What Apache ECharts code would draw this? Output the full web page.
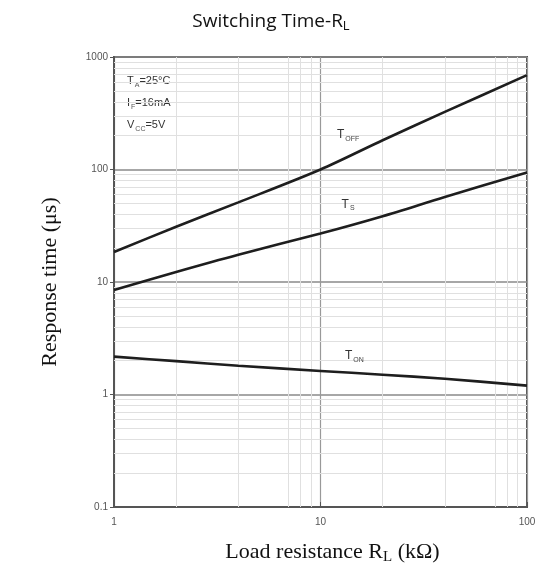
<!DOCTYPE html>
<html>
<head>
<meta charset="utf-8">
<script src="https://cdn.jsdelivr.net/npm/echarts@6/dist/echarts.min.js"></script>
<style>
  html, body { margin: 0; padding: 0; background: #fff; }
  #chart { width: 542px; height: 572px; }
</style>
</head>
<body>
<div id="chart"></div>
<script>
// Load resistance (kΩ) sample points and response times (µs)
const loadRes = [1, 2, 4, 10, 20, 40, 100];
const tOff = [18.5, 31, 51, 100, 182, 325, 690];
const tS = [8.5, 12.3, 17.5, 27, 38.5, 57, 94];
const tOn = [2.17, 1.98, 1.8, 1.62, 1.5, 1.38, 1.2];

// Secondary grid lines of the log-log chart paper
const xMinorGrid = [2, 4, 7, 8, 9, 20, 40, 70, 80, 90];
const yMinorGrid = [0.2, 0.3, 0.4, 0.5, 0.6, 0.7, 0.8, 0.9,
                    2, 3, 4, 5, 6, 7, 8, 9,
                    20, 30, 40, 50, 60, 70, 80, 90,
                    200, 300, 400, 500, 600, 700, 800, 900];

// Curve name labels: [text, sub, x, y]
const curveLabels = [
  ['T', 'OFF', 13.6, 204],
  ['T', 'S', 13.6, 49],
  ['T', 'ON', 14.6, 2.21]
];

const pairs = (ys) => loadRes.map((x, i) => [x, ys[i]]);

const subRich = {
  m: { fontSize: 12, fontFamily: 'Liberation Sans', color: '#333' },
  s: { fontSize: 7, fontFamily: 'Liberation Sans', color: '#444', padding: [8, 0, 0, 1] }
};

const chart = echarts.init(document.getElementById('chart'));

const curveSeries = (name, ys, lbl) => ({
  name: name,
  type: 'line',
  smooth: 0.3,
  showSymbol: false,
  data: pairs(ys),
  lineStyle: { color: '#1e1e1e', width: 2.6 },
  z: 5,
  markPoint: {
    silent: true,
    symbol: 'circle',
    symbolSize: 1,
    itemStyle: { color: 'rgba(0,0,0,0)' },
    label: {
      show: true,
      position: 'inside',
      formatter: '{m|' + lbl[0] + '}{s|' + lbl[1] + '}',
      rich: subRich
    },
    data: [{ coord: [lbl[2], lbl[3]] }]
  }
});

chart.setOption({
  animation: false,
  title: {
    text: 'Switching Time-R{s|L}',
    left: 'center',
    top: 6,
    textStyle: {
      fontFamily: 'Open Sans',
      fontSize: 19,
      fontWeight: 'normal',
      color: '#111',
      rich: {
        s: { fontFamily: 'Open Sans', fontSize: 13, color: '#111', padding: [9, 0, 0, 0] }
      }
    }
  },
  grid: {
    left: 114, right: 15, top: 57, bottom: 65,
    show: true, borderColor: '#555', borderWidth: 2
  },
  xAxis: {
    type: 'log',
    logBase: 10,
    min: 1,
    max: 100,
    name: 'Load resistance R{s|L} (kΩ)',
    nameLocation: 'middle',
    nameGap: 33,
    nameTextStyle: {
      fontFamily: 'Liberation Serif',
      fontSize: 22,
      color: '#111',
      padding: [0, 0, 0, 24],
      rich: {
        s: { fontFamily: 'Liberation Serif', fontSize: 15, color: '#111', padding: [10, 0, 0, 0] }
      }
    },
    axisLine: { show: true, lineStyle: { color: '#555', width: 2 } },
    axisTick: { show: true, inside: true, length: 5, lineStyle: { color: '#555' } },
    axisLabel: { fontFamily: 'Liberation Sans', fontSize: 10, color: '#555', margin: 10 },
    splitLine: { show: true, lineStyle: { color: '#999', width: 1.2 } },
    minorTick: { show: false },
    minorSplitLine: { show: false }
  },
  yAxis: {
    type: 'log',
    logBase: 10,
    min: 0.1,
    max: 1000,
    name: 'Response time (μs)',
    nameLocation: 'middle',
    nameGap: 53,
    nameTextStyle: { fontFamily: 'Liberation Serif', fontSize: 22, color: '#111' },
    axisLine: { show: true, lineStyle: { color: '#555', width: 2 } },
    axisTick: { show: true, length: 4, lineStyle: { color: '#555' } },
    axisLabel: {
      fontFamily: 'Liberation Sans', fontSize: 10, color: '#555', margin: 6,
      formatter: (v) => String(v)
    },
    splitLine: { show: true, lineStyle: { color: '#8a8a8a', width: 1.6 } }
  },
  graphic: [{
    type: 'text',
    left: 127,
    top: 70,
    style: {
      text: '{m|T}{s|A}{m|=25°C}\n{m|I}{s|F}{m|=16mA}\n{m|V}{s|CC}{m|=5V}',
      lineHeight: 22,
      rich: {
        m: { fontSize: 11, fontFamily: 'Liberation Sans', fill: '#333', lineHeight: 22 },
        s: { fontSize: 7, fontFamily: 'Liberation Sans', fill: '#555', padding: [8, 0, 0, 1], lineHeight: 22 }
      }
    }
  }],
  series: [
    {
      name: 'grid',
      type: 'line',
      data: [],
      silent: true,
      z: 1,
      markLine: {
        silent: true,
        symbol: ['none', 'none'],
        label: { show: false },
        lineStyle: { color: '#e0e0e0', width: 1, type: 'solid' },
        data: xMinorGrid.map(v => ({ xAxis: v }))
          .concat(yMinorGrid.map(v => ({ yAxis: v })))
      }
    },
    curveSeries('T_OFF', tOff, curveLabels[0]),
    curveSeries('T_S', tS, curveLabels[1]),
    curveSeries('T_ON', tOn, curveLabels[2])
  ]
});
</script>
</body>
</html>
